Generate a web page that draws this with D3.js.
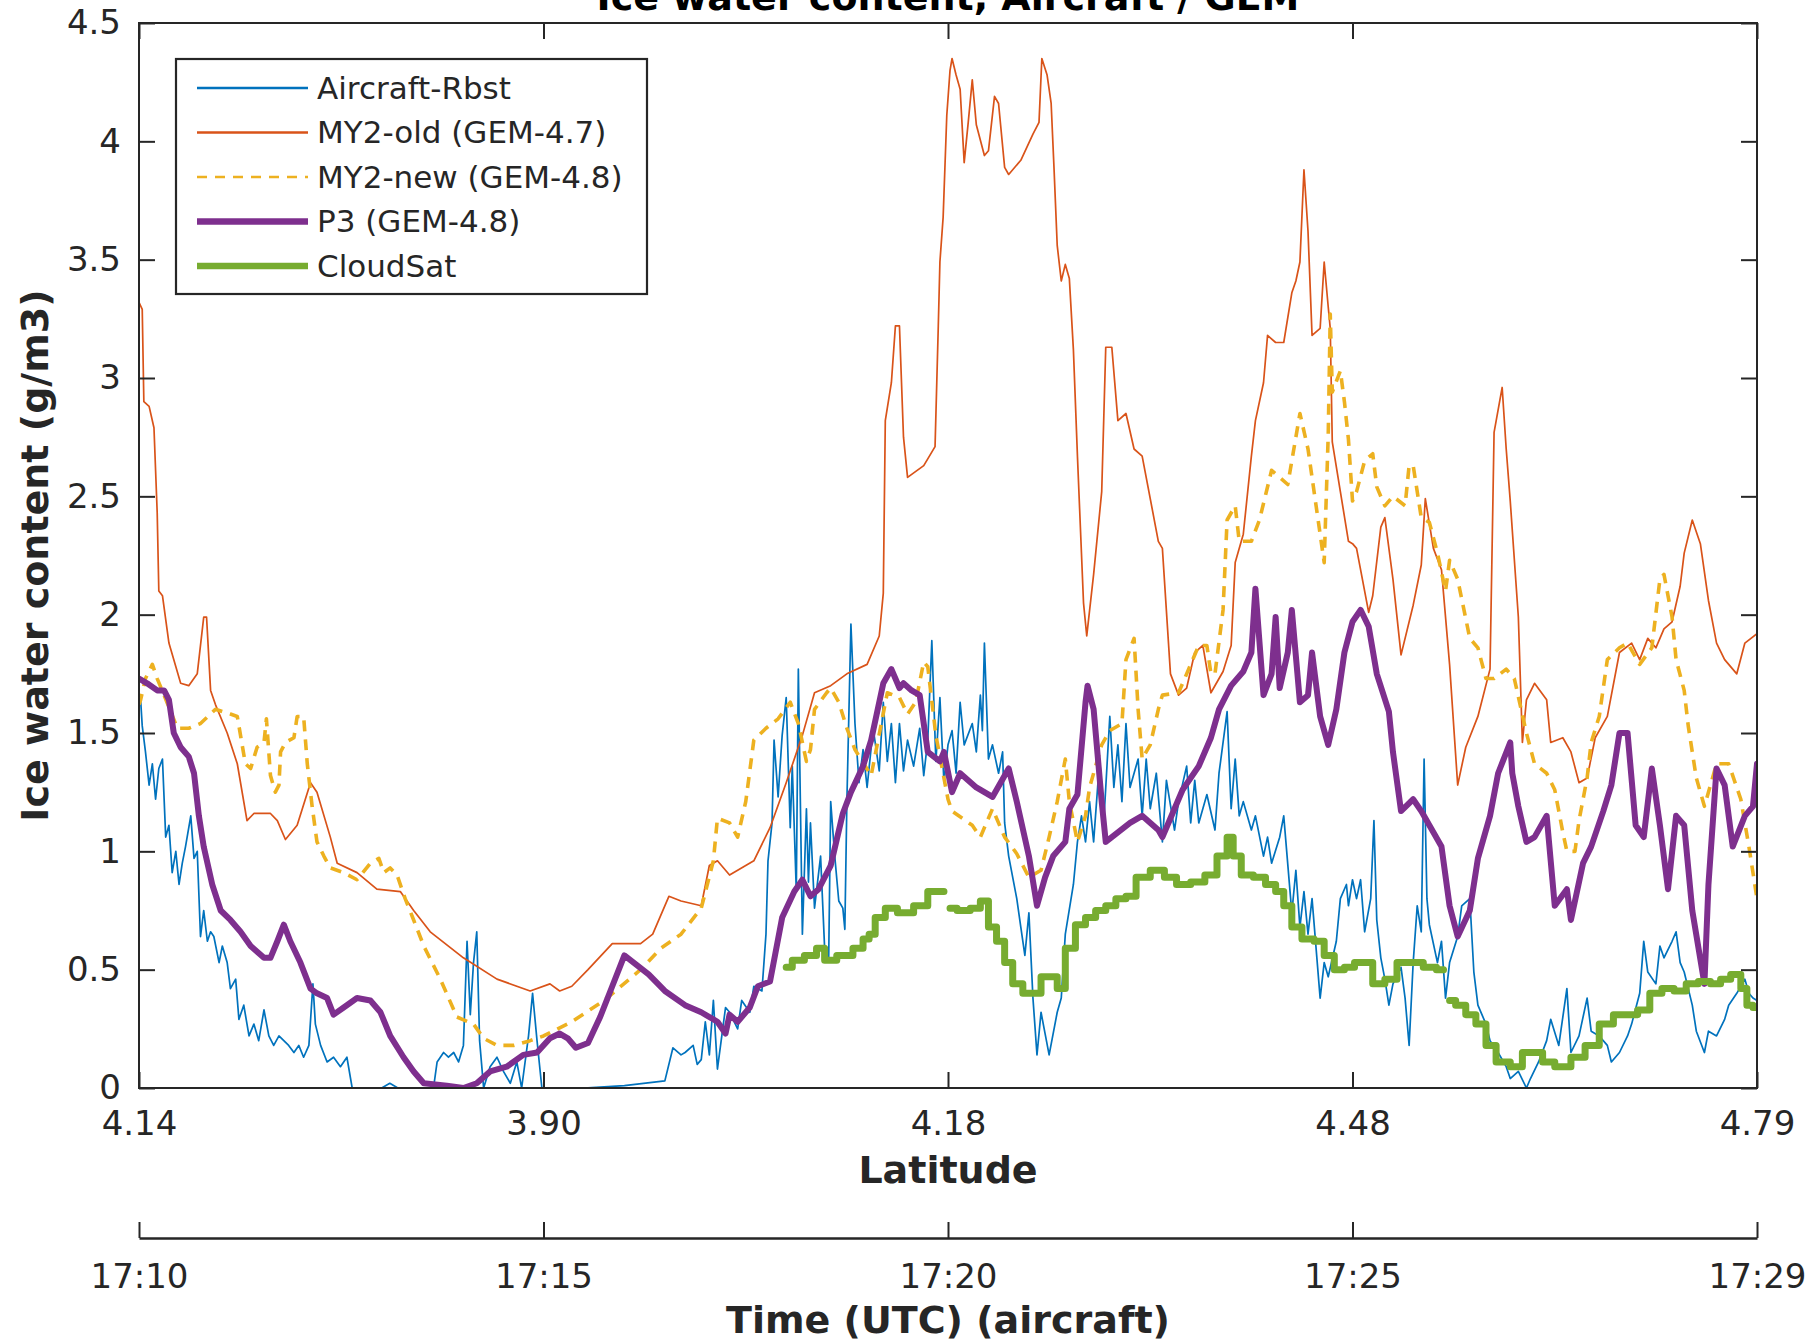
<!DOCTYPE html>
<html>
<head>
<meta charset="utf-8">
<script src="https://cdn.jsdelivr.net/npm/d3@7"></script>
<style>
  html, body { margin: 0; padding: 0; background: #ffffff; }
  svg { display: block; }
</style>
</head>
<body>
<svg id="chart" width="1820" height="1343"></svg>
<script>
// ---------------- DATA ----------------
// Track position is expressed in axis-tick units (0 .. 4 across the flight leg).
const tickPos = [0, 1, 2, 3, 4];
const latitudeLabels = ["4.14", "3.90", "4.18", "4.48", "4.79"];
const timeLabels = ["17:10", "17:15", "17:20", "17:25", "17:29"];
const iwcTicks = [0, 0.5, 1, 1.5, 2, 2.5, 3, 3.5, 4, 4.5];
const seriesNames = ["Aircraft-Rbst", "MY2-old (GEM-4.7)", "MY2-new (GEM-4.8)", "P3 (GEM-4.8)", "CloudSat"];

// [track position, ice water content g/m3]
const aircraftRbst = [[0.0,1.62],[0.004,1.64],[0.008,1.53],[0.016,1.42],[0.025,1.28],[0.033,1.37],[0.041,1.22],[0.049,1.35],[0.058,1.39],[0.066,1.06],[0.074,1.11],[0.082,0.91],[0.091,1.00],[0.099,0.86],[0.107,0.95],[0.115,1.02],[0.128,1.15],[0.136,0.97],[0.144,1.00],[0.152,0.64],[0.160,0.75],[0.169,0.62],[0.177,0.66],[0.185,0.64],[0.198,0.53],[0.206,0.60],[0.218,0.53],[0.226,0.42],[0.239,0.46],[0.247,0.29],[0.259,0.35],[0.272,0.22],[0.284,0.27],[0.296,0.20],[0.309,0.33],[0.321,0.22],[0.333,0.18],[0.346,0.22],[0.358,0.20],[0.370,0.18],[0.383,0.15],[0.395,0.18],[0.407,0.13],[0.420,0.18],[0.430,0.44],[0.436,0.27],[0.449,0.18],[0.465,0.11],[0.481,0.13],[0.498,0.09],[0.514,0.13],[0.527,0.0],[0.60,0.0],[0.62,0.02],[0.64,0.0],[0.70,0.0],[0.728,0.0],[0.737,0.11],[0.753,0.15],[0.765,0.13],[0.778,0.15],[0.790,0.11],[0.802,0.18],[0.811,0.62],[0.819,0.31],[0.827,0.53],[0.835,0.66],[0.842,0.20],[0.852,0.0],[0.868,0.09],[0.885,0.13],[0.901,0.07],[0.918,0.02],[0.934,0.11],[0.946,0.0],[0.963,0.22],[0.973,0.40],[0.984,0.20],[0.996,0.0],[1.1,0.0],[1.2,0.01],[1.30,0.03],[1.32,0.17],[1.34,0.14],[1.35,0.15],[1.37,0.18],[1.38,0.10],[1.39,0.12],[1.40,0.28],[1.41,0.14],[1.42,0.37],[1.43,0.08],[1.45,0.34],[1.46,0.32],[1.48,0.25],[1.49,0.37],[1.51,0.32],[1.52,0.43],[1.54,0.41],[1.55,0.65],[1.555,0.96],[1.565,1.12],[1.57,1.47],[1.58,1.23],[1.59,1.49],[1.60,1.65],[1.61,1.10],[1.615,1.36],[1.625,0.83],[1.63,1.77],[1.64,0.65],[1.65,1.18],[1.655,0.87],[1.66,1.12],[1.67,0.76],[1.685,0.98],[1.695,0.59],[1.705,0.54],[1.71,1.21],[1.72,0.98],[1.73,0.79],[1.74,0.76],[1.745,0.67],[1.75,1.21],[1.76,1.96],[1.77,1.54],[1.78,1.29],[1.79,1.43],[1.80,1.27],[1.815,1.52],[1.83,1.34],[1.84,1.63],[1.85,1.38],[1.86,1.54],[1.87,1.29],[1.88,1.54],[1.89,1.34],[1.90,1.47],[1.915,1.36],[1.93,1.52],[1.94,1.32],[1.95,1.47],[1.96,1.89],[1.97,1.38],[1.98,1.65],[1.99,1.29],[2.0,1.45],[2.01,1.51],[2.02,1.33],[2.03,1.63],[2.04,1.45],[2.06,1.54],[2.07,1.42],[2.08,1.66],[2.085,1.51],[2.09,1.88],[2.10,1.39],[2.11,1.45],[2.125,1.33],[2.135,1.42],[2.14,1.12],[2.15,0.98],[2.17,0.80],[2.18,0.68],[2.19,0.56],[2.20,0.74],[2.21,0.38],[2.22,0.14],[2.23,0.32],[2.24,0.23],[2.25,0.14],[2.27,0.32],[2.28,0.38],[2.29,0.65],[2.31,0.86],[2.32,1.04],[2.33,1.15],[2.34,1.04],[2.35,1.21],[2.36,1.04],[2.375,1.39],[2.385,1.12],[2.40,1.57],[2.41,1.27],[2.42,1.45],[2.43,1.21],[2.44,1.54],[2.45,1.27],[2.47,1.39],[2.48,1.15],[2.49,1.39],[2.50,1.18],[2.515,1.33],[2.53,1.04],[2.54,1.30],[2.56,1.09],[2.57,1.21],[2.59,1.36],[2.60,1.12],[2.61,1.30],[2.62,1.12],[2.64,1.24],[2.66,1.09],[2.67,1.33],[2.69,1.59],[2.70,1.18],[2.71,1.39],[2.72,1.15],[2.73,1.21],[2.75,1.09],[2.76,1.15],[2.78,0.98],[2.79,1.06],[2.80,0.95],[2.82,1.06],[2.83,1.15],[2.85,0.74],[2.86,0.92],[2.87,0.68],[2.88,0.83],[2.89,0.65],[2.90,0.80],[2.92,0.38],[2.93,0.53],[2.94,0.47],[2.96,0.62],[2.97,0.80],[2.985,0.86],[2.99,0.77],[3.0,0.88],[3.01,0.80],[3.02,0.88],[3.03,0.66],[3.045,0.80],[3.053,1.13],[3.06,0.71],[3.07,0.55],[3.08,0.46],[3.09,0.35],[3.10,0.44],[3.12,0.51],[3.13,0.38],[3.14,0.18],[3.15,0.53],[3.16,0.77],[3.17,0.66],[3.177,1.39],[3.184,0.80],[3.19,0.69],[3.21,0.53],[3.22,0.62],[3.23,0.38],[3.24,0.53],[3.26,0.64],[3.27,0.77],[3.29,0.80],[3.30,0.49],[3.31,0.35],[3.33,0.27],[3.34,0.20],[3.36,0.15],[3.38,0.09],[3.39,0.04],[3.41,0.07],[3.43,0.0],[3.44,0.04],[3.46,0.11],[3.48,0.20],[3.49,0.29],[3.51,0.18],[3.53,0.42],[3.54,0.15],[3.56,0.22],[3.58,0.38],[3.59,0.24],[3.61,0.22],[3.63,0.18],[3.64,0.11],[3.66,0.15],[3.68,0.22],[3.69,0.27],[3.71,0.40],[3.72,0.62],[3.73,0.49],[3.75,0.44],[3.76,0.60],[3.77,0.55],[3.79,0.62],[3.80,0.66],[3.81,0.53],[3.82,0.49],[3.84,0.35],[3.85,0.24],[3.87,0.15],[3.88,0.24],[3.90,0.22],[3.92,0.29],[3.93,0.35],[3.95,0.40],[3.97,0.46],[3.98,0.40],[3.99,0.38],[4.00,0.37]];

const my2Old = [[0.0,3.32],[0.008,3.29],[0.012,2.90],[0.025,2.88],[0.037,2.79],[0.045,2.43],[0.049,2.10],[0.058,2.08],[0.074,1.88],[0.103,1.71],[0.123,1.70],[0.144,1.75],[0.160,1.99],[0.167,1.99],[0.177,1.68],[0.189,1.62],[0.218,1.50],[0.243,1.37],[0.267,1.13],[0.284,1.16],[0.325,1.16],[0.342,1.13],[0.362,1.05],[0.391,1.11],[0.424,1.29],[0.440,1.25],[0.473,1.06],[0.490,0.95],[0.539,0.91],[0.588,0.84],[0.646,0.83],[0.679,0.75],[0.720,0.66],[0.802,0.55],[0.885,0.46],[0.967,0.41],[1.016,0.44],[1.04,0.41],[1.07,0.43],[1.11,0.50],[1.17,0.61],[1.24,0.61],[1.27,0.65],[1.31,0.81],[1.34,0.79],[1.39,0.77],[1.41,0.94],[1.43,0.96],[1.46,0.90],[1.52,0.96],[1.56,1.10],[1.60,1.29],[1.64,1.49],[1.67,1.67],[1.71,1.70],[1.75,1.75],[1.80,1.79],[1.83,1.91],[1.84,2.09],[1.845,2.82],[1.86,2.98],[1.87,3.22],[1.88,3.22],[1.89,2.75],[1.90,2.58],[1.94,2.63],[1.968,2.71],[1.976,3.22],[1.98,3.49],[1.988,3.68],[1.997,4.11],[2.005,4.30],[2.01,4.35],[2.02,4.28],[2.03,4.22],[2.04,3.91],[2.05,4.08],[2.06,4.26],[2.07,4.07],[2.09,3.94],[2.10,3.96],[2.115,4.19],[2.125,4.16],[2.14,3.89],[2.15,3.86],[2.18,3.92],[2.21,4.03],[2.225,4.08],[2.232,4.35],[2.245,4.28],[2.255,4.16],[2.262,3.89],[2.27,3.56],[2.28,3.41],[2.29,3.48],[2.30,3.42],[2.31,3.12],[2.32,2.67],[2.335,2.05],[2.343,1.91],[2.36,2.17],[2.38,2.52],[2.39,3.13],[2.405,3.13],[2.42,2.82],[2.44,2.85],[2.46,2.70],[2.48,2.67],[2.52,2.31],[2.53,2.28],[2.55,1.75],[2.57,1.66],[2.59,1.69],[2.61,1.84],[2.63,1.87],[2.65,1.67],[2.68,1.76],[2.70,1.87],[2.71,2.22],[2.73,2.34],[2.75,2.67],[2.76,2.82],[2.78,2.98],[2.79,3.18],[2.81,3.15],[2.83,3.15],[2.85,3.36],[2.86,3.41],[2.87,3.49],[2.88,3.88],[2.89,3.62],[2.90,3.18],[2.92,3.21],[2.93,3.49],[2.94,3.30],[2.945,3.21],[2.95,2.73],[2.97,2.52],[2.99,2.31],[3.00,2.30],[3.01,2.28],[3.04,2.01],[3.05,2.08],[3.07,2.37],[3.08,2.41],[3.10,2.15],[3.12,1.83],[3.15,2.04],[3.17,2.21],[3.18,2.49],[3.20,2.28],[3.22,2.19],[3.24,1.79],[3.26,1.28],[3.28,1.44],[3.31,1.57],[3.34,1.77],[3.35,2.77],[3.37,2.96],[3.38,2.70],[3.39,2.48],[3.41,1.99],[3.42,1.46],[3.43,1.64],[3.45,1.71],[3.48,1.64],[3.49,1.46],[3.52,1.48],[3.54,1.42],[3.56,1.29],[3.58,1.31],[3.60,1.48],[3.63,1.57],[3.66,1.84],[3.69,1.88],[3.71,1.81],[3.73,1.90],[3.75,1.86],[3.77,1.94],[3.79,1.97],[3.81,2.12],[3.82,2.26],[3.84,2.40],[3.86,2.30],[3.88,2.06],[3.90,1.88],[3.92,1.81],[3.95,1.75],[3.97,1.88],[4.00,1.92]];

const my2New = [[0.0,1.62],[0.004,1.64],[0.016,1.73],[0.033,1.79],[0.045,1.73],[0.062,1.66],[0.095,1.52],[0.123,1.52],[0.152,1.54],[0.189,1.60],[0.226,1.58],[0.243,1.57],[0.263,1.37],[0.276,1.35],[0.292,1.44],[0.309,1.46],[0.315,1.56],[0.325,1.32],[0.337,1.25],[0.346,1.28],[0.35,1.42],[0.362,1.46],[0.383,1.48],[0.391,1.57],[0.407,1.57],[0.416,1.37],[0.428,1.19],[0.440,1.04],[0.457,0.98],[0.473,0.93],[0.506,0.91],[0.539,0.88],[0.572,0.95],[0.593,0.97],[0.605,0.91],[0.621,0.93],[0.638,0.90],[0.658,0.80],[0.679,0.71],[0.704,0.60],[0.745,0.46],[0.786,0.30],[0.827,0.27],[0.852,0.21],[0.885,0.18],[0.926,0.18],[0.967,0.20],[1.0,0.22],[1.07,0.28],[1.15,0.37],[1.24,0.50],[1.29,0.59],[1.34,0.65],[1.39,0.76],[1.42,0.96],[1.43,1.14],[1.46,1.12],[1.48,1.06],[1.50,1.21],[1.52,1.47],[1.55,1.52],[1.58,1.56],[1.61,1.63],[1.63,1.54],[1.65,1.38],[1.66,1.43],[1.67,1.60],[1.70,1.67],[1.71,1.69],[1.73,1.63],[1.75,1.52],[1.77,1.43],[1.81,1.32],[1.85,1.67],[1.88,1.65],[1.90,1.58],[1.92,1.63],[1.94,1.80],[1.95,1.78],[1.97,1.49],[2.00,1.22],[2.01,1.17],[2.06,1.11],[2.08,1.06],[2.11,1.18],[2.14,1.06],[2.17,0.99],[2.20,0.89],[2.23,0.92],[2.25,1.06],[2.27,1.21],[2.29,1.39],[2.30,1.21],[2.32,1.04],[2.34,1.15],[2.35,1.27],[2.38,1.45],[2.40,1.51],[2.43,1.54],[2.44,1.81],[2.46,1.90],[2.47,1.60],[2.48,1.39],[2.50,1.45],[2.52,1.60],[2.53,1.66],[2.57,1.67],[2.59,1.75],[2.62,1.87],[2.64,1.87],[2.65,1.75],[2.66,1.75],[2.68,2.02],[2.69,2.40],[2.71,2.46],[2.72,2.31],[2.75,2.31],[2.77,2.40],[2.80,2.61],[2.84,2.55],[2.87,2.85],[2.89,2.70],[2.91,2.46],[2.93,2.22],[2.94,2.76],[2.945,3.27],[2.95,2.94],[2.97,3.03],[2.98,2.90],[2.99,2.74],[3.00,2.48],[3.01,2.52],[3.03,2.65],[3.05,2.68],[3.06,2.54],[3.08,2.46],[3.10,2.50],[3.13,2.46],[3.14,2.63],[3.15,2.63],[3.17,2.41],[3.19,2.39],[3.21,2.26],[3.23,2.10],[3.24,2.23],[3.26,2.15],[3.29,1.90],[3.31,1.86],[3.33,1.73],[3.35,1.73],[3.38,1.77],[3.40,1.73],[3.43,1.50],[3.45,1.37],[3.48,1.33],[3.50,1.26],[3.52,1.08],[3.53,1.00],[3.55,1.00],[3.56,1.13],[3.58,1.31],[3.59,1.46],[3.61,1.57],[3.63,1.81],[3.66,1.86],[3.68,1.88],[3.71,1.79],[3.74,1.86],[3.76,2.15],[3.77,2.17],[3.79,1.99],[3.80,1.81],[3.82,1.68],[3.83,1.53],[3.85,1.31],[3.87,1.19],[3.90,1.37],[3.93,1.37],[3.96,1.22],[3.98,1.02],[4.00,0.80]];

const p3 = [[0.0,1.73],[0.02,1.71],[0.045,1.68],[0.062,1.68],[0.074,1.64],[0.086,1.50],[0.103,1.44],[0.123,1.40],[0.136,1.33],[0.148,1.15],[0.160,1.02],[0.181,0.86],[0.202,0.75],[0.226,0.71],[0.251,0.66],[0.276,0.60],[0.309,0.55],[0.325,0.55],[0.342,0.62],[0.358,0.69],[0.374,0.62],[0.399,0.53],[0.424,0.42],[0.440,0.40],[0.465,0.38],[0.481,0.31],[0.506,0.34],[0.539,0.38],[0.572,0.37],[0.597,0.32],[0.621,0.22],[0.654,0.13],[0.679,0.07],[0.704,0.02],[0.761,0.01],[0.802,0.0],[0.835,0.02],[0.868,0.07],[0.909,0.09],[0.95,0.14],[0.984,0.15],[1.016,0.21],[1.04,0.23],[1.06,0.21],[1.08,0.17],[1.11,0.19],[1.14,0.30],[1.17,0.43],[1.20,0.56],[1.23,0.52],[1.26,0.48],[1.30,0.41],[1.35,0.35],[1.39,0.32],[1.43,0.28],[1.45,0.23],[1.46,0.31],[1.48,0.28],[1.51,0.34],[1.53,0.43],[1.56,0.45],[1.57,0.54],[1.59,0.72],[1.62,0.83],[1.64,0.88],[1.66,0.81],[1.68,0.84],[1.71,0.94],[1.74,1.16],[1.76,1.25],[1.79,1.36],[1.81,1.47],[1.84,1.71],[1.86,1.77],[1.88,1.69],[1.89,1.71],[1.91,1.68],[1.93,1.66],[1.95,1.42],[1.98,1.38],[1.99,1.42],[2.01,1.25],[2.03,1.33],[2.07,1.27],[2.11,1.23],[2.15,1.35],[2.17,1.21],[2.20,0.98],[2.22,0.77],[2.24,0.89],[2.26,0.98],[2.29,1.04],[2.30,1.18],[2.32,1.24],[2.34,1.63],[2.345,1.70],[2.36,1.60],[2.38,1.21],[2.39,1.04],[2.42,1.08],[2.45,1.12],[2.48,1.15],[2.52,1.09],[2.53,1.06],[2.56,1.18],[2.58,1.26],[2.62,1.36],[2.65,1.48],[2.67,1.60],[2.70,1.70],[2.73,1.76],[2.75,1.84],[2.76,2.11],[2.78,1.66],[2.80,1.75],[2.81,1.99],[2.82,1.69],[2.84,1.84],[2.85,2.02],[2.87,1.63],[2.89,1.66],[2.90,1.84],[2.92,1.57],[2.94,1.45],[2.96,1.60],[2.98,1.84],[3.00,1.97],[3.02,2.02],[3.04,1.95],[3.06,1.75],[3.09,1.59],[3.10,1.42],[3.12,1.17],[3.15,1.22],[3.17,1.17],[3.19,1.11],[3.22,1.02],[3.24,0.77],[3.26,0.64],[3.29,0.75],[3.31,0.97],[3.34,1.15],[3.36,1.33],[3.39,1.46],[3.395,1.33],[3.41,1.19],[3.43,1.04],[3.45,1.06],[3.48,1.15],[3.50,0.77],[3.53,0.84],[3.54,0.71],[3.57,0.95],[3.59,1.02],[3.62,1.17],[3.64,1.28],[3.66,1.50],[3.68,1.50],[3.70,1.11],[3.72,1.06],[3.74,1.35],[3.76,1.11],[3.78,0.84],[3.80,1.15],[3.82,1.11],[3.84,0.75],[3.87,0.44],[3.88,0.86],[3.90,1.35],[3.92,1.28],[3.94,1.02],[3.97,1.15],[3.99,1.19],[4.00,1.37]];

// null marks a gap in the CloudSat track
const cloudSat = [[1.60,0.51],[1.63,0.54],[1.66,0.56],[1.69,0.59],[1.70,0.54],[1.75,0.56],[1.78,0.59],[1.80,0.63],[1.81,0.65],[1.83,0.72],[1.86,0.76],[1.89,0.74],[1.94,0.77],[1.96,0.83],[1.99,0.83],[1.995,null],[2.005,0.76],[2.04,0.75],[2.07,0.76],[2.09,0.79],[2.11,0.68],[2.13,0.62],[2.15,0.53],[2.17,0.44],[2.20,0.40],[2.22,0.40],[2.24,0.47],[2.26,0.47],[2.28,0.42],[2.30,0.59],[2.33,0.69],[2.35,0.72],[2.38,0.75],[2.40,0.77],[2.43,0.80],[2.45,0.81],[2.48,0.89],[2.52,0.92],[2.55,0.89],[2.58,0.86],[2.62,0.87],[2.65,0.90],[2.68,0.98],[2.70,1.06],[2.71,0.98],[2.74,0.90],[2.77,0.89],[2.80,0.86],[2.82,0.83],[2.84,0.77],[2.86,0.68],[2.89,0.63],[2.92,0.62],[2.94,0.56],[2.97,0.50],[2.99,0.51],[3.02,0.53],[3.04,0.53],[3.06,0.44],[3.10,0.46],[3.12,0.53],[3.16,0.53],[3.19,0.51],[3.225,0.50],[3.232,null],[3.24,0.37],[3.27,0.35],[3.29,0.31],[3.32,0.27],[3.34,0.18],[3.37,0.11],[3.41,0.09],[3.43,0.15],[3.46,0.15],[3.48,0.11],[3.52,0.09],[3.56,0.13],[3.59,0.18],[3.63,0.27],[3.66,0.31],[3.69,0.31],[3.72,0.33],[3.75,0.40],[3.78,0.42],[3.81,0.41],[3.84,0.44],[3.87,0.45],[3.90,0.44],[3.92,0.46],[3.95,0.48],[3.97,0.42],[3.98,0.35],[4.00,0.34]];

// ---------------- DRAWING ----------------
const svg = d3.select("#chart");
const ink = "#262626";
const font = "'DejaVu Sans', sans-serif";
const plot = { left: 139, right: 1757, top: 23, bottom: 1088 };

const x = d3.scaleLinear().domain([0, 4]).range([plot.left, plot.right]);
const y = d3.scaleLinear().domain([0, 4.5]).range([plot.bottom, plot.top]);

svg.append("rect").attr("width", 1820).attr("height", 1343).attr("fill", "#fff");

svg.append("defs").append("clipPath").attr("id", "plotclip")
  .append("rect")
  .attr("x", plot.left).attr("y", plot.top)
  .attr("width", plot.right - plot.left).attr("height", plot.bottom - plot.top);

const styles = [
  { data: aircraftRbst, color: "#0072BD", width: 1.7, dash: null, step: false },
  { data: my2Old,       color: "#D95319", width: 1.7, dash: null, step: false },
  { data: my2New,       color: "#EDB120", width: 3.6, dash: "11,8", step: false },
  { data: p3,           color: "#7E2F8E", width: 6.0, dash: null, step: false },
  { data: cloudSat,     color: "#77AC30", width: 7.0, dash: null, step: true }
];

const linesG = svg.append("g").attr("clip-path", "url(#plotclip)");
styles.forEach(s => {
  const gen = d3.line()
    .defined(d => d[1] !== null)
    .x(d => x(d[0]))
    .y(d => y(d[1]))
    .curve(s.step ? d3.curveStep : d3.curveLinear);
  linesG.append("path")
    .datum(s.data)
    .attr("d", gen)
    .attr("fill", "none")
    .attr("stroke", s.color)
    .attr("stroke-width", s.width)
    .attr("stroke-linejoin", "round")
    .attr("stroke-linecap", s.dash ? "butt" : "round")
    .attr("stroke-dasharray", s.dash);
});

// axes
const tickLen = 16;
function styleAxis(g, fs) {
  g.select(".domain").remove();
  g.selectAll(".tick line").attr("stroke", ink).attr("stroke-width", 2);
  g.selectAll(".tick text").attr("fill", ink).style("font-family", font).style("font-size", fs + "px");
}

const bottomAx = svg.append("g").attr("transform", `translate(0,${plot.bottom})`)
  .call(d3.axisBottom(x).tickValues(tickPos).tickFormat((d, i) => latitudeLabels[i])
    .tickSizeInner(-tickLen).tickSizeOuter(0).tickPadding(23));
styleAxis(bottomAx, 34);

const topAx = svg.append("g").attr("transform", `translate(0,${plot.top})`)
  .call(d3.axisTop(x).tickValues(tickPos).tickFormat("").tickSizeInner(-tickLen).tickSizeOuter(0));
styleAxis(topAx, 34);

const leftAx = svg.append("g").attr("transform", `translate(${plot.left},0)`)
  .call(d3.axisLeft(y).tickValues(iwcTicks).tickFormat(d3.format("~g"))
    .tickSizeInner(-tickLen).tickSizeOuter(0).tickPadding(18));
styleAxis(leftAx, 34);

const rightAx = svg.append("g").attr("transform", `translate(${plot.right},0)`)
  .call(d3.axisRight(y).tickValues(iwcTicks).tickFormat("").tickSizeInner(-tickLen).tickSizeOuter(0));
styleAxis(rightAx, 34);

svg.append("rect")
  .attr("x", plot.left).attr("y", plot.top)
  .attr("width", plot.right - plot.left).attr("height", plot.bottom - plot.top)
  .attr("fill", "none").attr("stroke", ink).attr("stroke-width", 2);

// second (time) axis
const timeAxisY = 1238;
const timeAx = svg.append("g").attr("transform", `translate(0,${timeAxisY})`)
  .call(d3.axisBottom(x).tickValues(tickPos).tickFormat((d, i) => timeLabels[i])
    .tickSizeInner(-tickLen).tickSizeOuter(0).tickPadding(26));
timeAx.select(".domain").attr("stroke", ink).attr("stroke-width", 2.5);
timeAx.selectAll(".tick line").attr("stroke", ink).attr("stroke-width", 2);
timeAx.selectAll(".tick text").attr("fill", ink).style("font-family", font).style("font-size", "34px");

// titles and labels
const cx = (plot.left + plot.right) / 2;
svg.append("text").attr("x", cx).attr("y", 10).attr("text-anchor", "middle")
  .style("font-family", font).style("font-size", "38px").style("font-weight", "bold").attr("fill", "#000")
  .text("Ice water content, Aircraft / GEM");

svg.append("text").attr("x", cx).attr("y", 1183).attr("text-anchor", "middle")
  .style("font-family", font).style("font-size", "38px").style("font-weight", "bold").attr("fill", ink)
  .text("Latitude");

svg.append("text").attr("x", cx).attr("y", 1333).attr("text-anchor", "middle")
  .style("font-family", font).style("font-size", "38px").style("font-weight", "bold").attr("fill", ink)
  .text("Time (UTC) (aircraft)");

svg.append("text")
  .attr("transform", `translate(48,${(plot.top + plot.bottom) / 2}) rotate(-90)`)
  .attr("text-anchor", "middle")
  .style("font-family", font).style("font-size", "38px").style("font-weight", "bold").attr("fill", ink)
  .text("Ice water content (g/m3)");

// legend
const legend = svg.append("g");
legend.append("rect").attr("x", 176).attr("y", 59).attr("width", 471).attr("height", 235)
  .attr("fill", "#fff").attr("stroke", ink).attr("stroke-width", 2.2);
const rowY = d3.scalePoint().domain(seriesNames).range([88, 266]);
seriesNames.forEach((name, i) => {
  const s = styles[i];
  legend.append("line")
    .attr("x1", 197).attr("x2", 308).attr("y1", rowY(name)).attr("y2", rowY(name))
    .attr("stroke", s.color).attr("stroke-width", s.width > 5 ? 6.5 : 2.6)
    .attr("stroke-dasharray", s.dash ? "10,8" : null);
  legend.append("text").attr("x", 317).attr("y", rowY(name)).attr("dy", "0.35em")
    .style("font-family", font).style("font-size", "31px").attr("fill", ink)
    .text(name);
});
</script>
</body>
</html>
